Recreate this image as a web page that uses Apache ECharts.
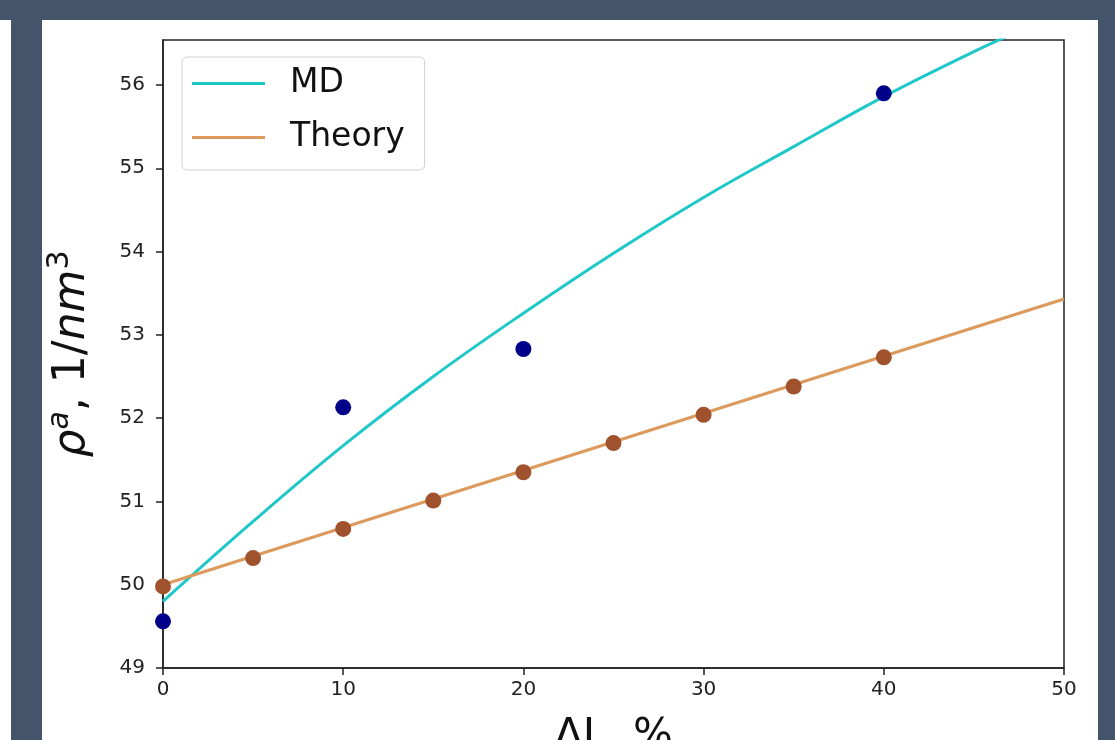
<!DOCTYPE html>
<html>
<head>
<meta charset="utf-8">
<script src="https://cdn.jsdelivr.net/npm/echarts@6/dist/echarts.min.js"></script>
<style>
  html, body { margin: 0; padding: 0; background: #44546a; }
  #chart { width: 1115px; height: 740px; }
</style>
</head>
<body>
<div id="chart"></div>
<script>
// ---- data ----
const mdX = [0, 10, 20, 40];
const mdY = [49.56, 52.13, 52.83, 55.90];

const mdFitX = [0, 5, 10, 15, 20, 25, 30, 35, 40, 45, 47];
const mdFitY = [49.80, 50.76, 51.67, 52.50, 53.26, 53.98, 54.65, 55.26, 55.86, 56.40, 56.60];

const theoryX = [0, 5, 10, 15, 20, 25, 30, 35, 40];
const theoryY = [49.98, 50.32, 50.67, 51.01, 51.35, 51.70, 52.04, 52.38, 52.73];

const theoryLineX = [0, 50];
const theoryLineY = [50.00, 53.43];

const xTicks = [0, 10, 20, 30, 40, 50];
const yTicks = [49, 50, 51, 52, 53, 54, 55, 56];

const zip = (xs, ys) => xs.map((x, i) => [x, ys[i]]);

const chart = echarts.init(document.getElementById('chart'), null, { renderer: 'canvas' });

const option = {
  backgroundColor: '#44546a',
  animation: false,
  graphic: [
    { type: 'rect', z: -10, shape: { x: 42, y: 20, width: 1056, height: 720 }, style: { fill: '#ffffff' } },
    { type: 'rect', z: -10, shape: { x: 0, y: 20, width: 11, height: 720 }, style: { fill: '#ffffff' } }
  ],
  grid: {
    left: 163, right: 51, top: 40, bottom: 72,
    outerBoundsMode: 'none', containLabel: false,
    show: true, borderColor: '#222', borderWidth: 1.5, backgroundColor: '#ffffff'
  },
  legend: {
    data: ['MD', 'Theory'],
    orient: 'vertical',
    left: 182, top: 57,
    padding: [10, 20, 16, 10],
    itemGap: 21,
    icon: 'rect',
    itemWidth: 73, itemHeight: 3,
    backgroundColor: '#ffffff',
    borderColor: '#d0d0d0', borderWidth: 1, borderRadius: 5,
    textStyle: { fontFamily: 'DejaVu Sans', fontSize: 33, color: '#111', padding: [0, 0, 0, 20] }
  },
  xAxis: {
    type: 'value', min: 0, max: 50, interval: 10,
    name: 'ΔL, %', nameLocation: 'middle', nameGap: 48,
    nameTextStyle: { fontFamily: 'DejaVu Sans', fontSize: 42, color: '#111' },
    splitLine: { show: false },
    axisLine: { show: true, onZero: false, lineStyle: { color: '#222', width: 1.5 } },
    axisTick: { show: true, length: 7, lineStyle: { color: '#222', width: 1.5 }, customValues: xTicks },
    axisLabel: { fontFamily: 'DejaVu Sans', fontSize: 20, color: '#222', margin: 12, customValues: xTicks }
  },
  yAxis: {
    type: 'value', min: 49, max: 56.54, interval: 1,
    name: '{r|ρ}{s|a}{n|, 1/}{r|nm}{t|3}',
    nameLocation: 'middle', nameGap: 62, nameRotate: 90,
    nameTextStyle: {
      fontFamily: 'DejaVu Sans', fontSize: 44, color: '#111',
      rich: {
        r: { fontFamily: 'DejaVu Sans', fontStyle: 'italic', fontSize: 44, lineHeight: 56, color: '#111' },
        n: { fontFamily: 'DejaVu Sans', fontSize: 44, lineHeight: 56, color: '#111' },
        s: { fontFamily: 'DejaVu Sans', fontStyle: 'italic', fontSize: 30, lineHeight: 30, verticalAlign: 'top', color: '#111' },
        t: { fontFamily: 'DejaVu Sans', fontSize: 30, lineHeight: 30, verticalAlign: 'top', color: '#111' }
      }
    },
    splitLine: { show: false },
    axisLine: { show: true, onZero: false, lineStyle: { color: '#222', width: 1.5 } },
    axisTick: { show: true, length: 7, lineStyle: { color: '#222', width: 1.5 }, customValues: yTicks },
    axisLabel: { fontFamily: 'DejaVu Sans', fontSize: 20, color: '#222', margin: 18, customValues: yTicks }
  },
  series: [
    {
      name: 'MD', type: 'line', data: zip(mdFitX, mdFitY),
      smooth: 0.4, symbol: 'none', clip: true, z: 2,
      lineStyle: { color: '#1fc8c8', width: 3 }, itemStyle: { color: '#1fc8c8' }
    },
    {
      name: 'Theory', type: 'line', data: zip(theoryLineX, theoryLineY),
      symbol: 'none', clip: true, z: 2,
      lineStyle: { color: '#dc9a5c', width: 3 }, itemStyle: { color: '#dc9a5c' }
    },
    {
      name: 'MD points', type: 'scatter', data: zip(mdX, mdY),
      symbolSize: 16, clip: false, z: 3, itemStyle: { color: '#00008b', opacity: 1 }
    },
    {
      name: 'Theory points', type: 'scatter', data: zip(theoryX, theoryY),
      symbolSize: 16, clip: false, z: 3, itemStyle: { color: '#a0522d', opacity: 1 }
    }
  ]
};
chart.setOption(option);
</script>
</body>
</html>
